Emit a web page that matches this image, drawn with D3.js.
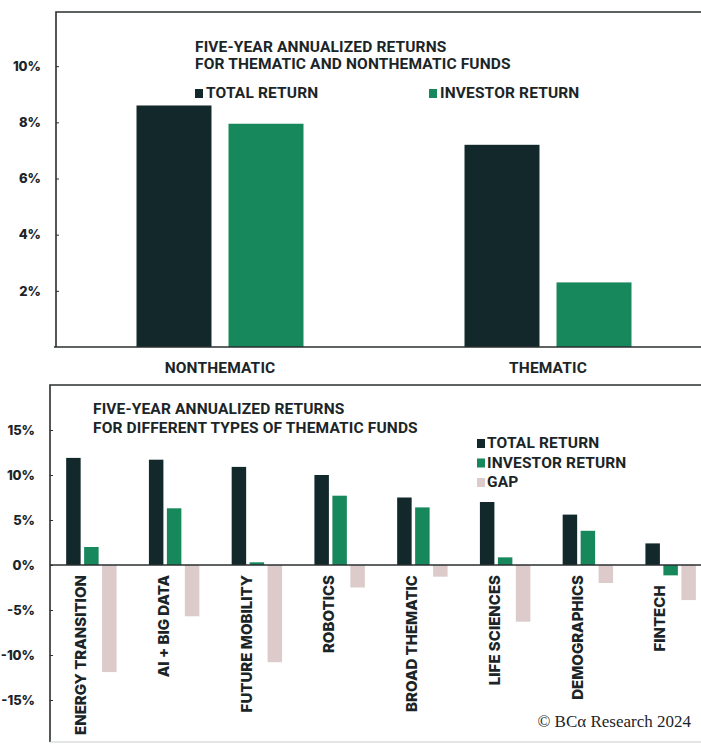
<!DOCTYPE html>
<html>
<head>
<meta charset="utf-8">
<script src="https://cdn.jsdelivr.net/npm/d3@7"></script>
<style>
  body { margin: 0; background: #fff; }
  svg { display: block; }
</style>
</head>
<body>
<div id="chart"></div>
<script>
// BCA: five-year annualized returns, thematic vs nonthematic funds

const TOP_GROUPS = ['NONTHEMATIC', 'THEMATIC'];
const TOP_TOTAL = [8.6, 7.2];
const TOP_INVESTOR = [7.95, 2.3];
const TOP_TICKS = [2, 4, 6, 8, 10];

const CATEGORIES = ['ENERGY TRANSITION', 'AI + BIG DATA', 'FUTURE MOBILITY', 'ROBOTICS',
    'BROAD THEMATIC', 'LIFE SCIENCES', 'DEMOGRAPHICS', 'FINTECH'];
const TOTAL = [11.9, 11.7, 10.9, 10.0, 7.5, 7.0, 5.6, 2.4];
const INVESTOR = [2.0, 6.3, 0.3, 7.7, 6.4, 0.85, 3.8, -1.15];
const GAP = [-11.9, -5.7, -10.8, -2.5, -1.3, -6.3, -2.0, -3.9];
const BOTTOM_TICKS = [-15, -10, -5, 0, 5, 10, 15];

const COLORS = { total: '#12282b', investor: '#17885b', gap: '#dccbca' };
const INK = '#1b2527';
const TITLE_FONT = 'Roboto, sans-serif';
const LABEL_FONT = 'Inter, sans-serif';
const TITLE_SIZE = 15.5;

const W = 701, H = 744;

const svg = d3.select('#chart').append('svg')
    .attr('width', W)
    .attr('height', H);

const fmtPct = d => `${d}%`;

function titleText(sel) {
    return sel.attr('font-family', TITLE_FONT).attr('font-weight', 700)
        .attr('font-size', TITLE_SIZE).attr('letter-spacing', 0.15).attr('fill', INK);
}

function labelText(sel, size) {
    return sel.attr('font-family', LABEL_FONT).attr('font-weight', 800)
        .attr('font-size', size).attr('fill', INK);
}

// ---------- top chart ----------
function drawTop() {
    const g = svg.append('g');
    const left = 56, right = 712, top = 12;

    const y = d3.scaleLinear().domain([0, 12]).range([347, 10]);
    const x0 = d3.scaleBand().domain(TOP_GROUPS).range([left, right]);
    const x1 = d3.scaleBand().domain(['total', 'investor'])
        .range([0, x0.bandwidth()])
        .paddingInner(0.185)
        .paddingOuter(0.875);

    const rows = TOP_GROUPS.map((name, i) => ({ name, total: TOP_TOTAL[i], investor: TOP_INVESTOR[i] }));

    g.selectAll('g.grp')
        .data(rows)
        .enter().append('g')
        .attr('transform', d => `translate(${x0(d.name)},0)`)
        .selectAll('rect')
        .data(d => ['total', 'investor'].map(k => ({ k, v: d[k] })))
        .enter().append('rect')
        .attr('x', d => x1(d.k))
        .attr('width', x1.bandwidth())
        .attr('y', d => y(d.v))
        .attr('height', d => y(0) - y(d.v))
        .attr('fill', d => COLORS[d.k]);

    // frame
    g.append('path')
        .attr('d', `M${left},${y(0)}V${top}H${W}`)
        .attr('fill', 'none').attr('stroke', '#2a2f30').attr('stroke-width', 1.6);
    g.append('line')
        .attr('x1', left - 2).attr('x2', W)
        .attr('y1', y(0)).attr('y2', y(0))
        .attr('stroke', '#2a2f30').attr('stroke-width', 1.6);

    // y axis
    const yAxis = d3.axisLeft(y).tickValues(TOP_TICKS).tickFormat(fmtPct).tickSize(-3).tickPadding(15);
    const ax = g.append('g').attr('transform', `translate(${left},0)`).call(yAxis);
    ax.select('.domain').remove();
    ax.selectAll('line').attr('stroke', '#2a2f30');
    ax.selectAll('text').call(labelText, 13);

    // x labels
    g.selectAll('text.cat')
        .data(TOP_GROUPS)
        .enter().append('text')
        .attr('x', d => x0(d) + x0.bandwidth() / 2)
        .attr('y', 373)
        .attr('text-anchor', 'middle')
        .call(titleText)
        .text(d => d);

    // title
    const title = g.append('text').call(titleText);
    title.append('tspan').attr('x', 195).attr('y', 52).text('FIVE-YEAR ANNUALIZED RETURNS');
    title.append('tspan').attr('x', 195).attr('y', 69).text('FOR THEMATIC AND NONTHEMATIC FUNDS');

    // legend
    const legend = [
        { k: 'total', label: 'TOTAL RETURN', x: 195 },
        { k: 'investor', label: 'INVESTOR RETURN', x: 429 }
    ];
    const lg = g.selectAll('g.leg').data(legend).enter().append('g')
        .attr('transform', d => `translate(${d.x},98)`);
    lg.append('rect').attr('x', 0).attr('y', -9).attr('width', 8).attr('height', 9)
        .attr('fill', d => COLORS[d.k]);
    lg.append('text').attr('x', 11).call(titleText)
        .text(d => d.label);
}

// ---------- bottom chart ----------
function drawBottom() {
    const g = svg.append('g');
    const left = 50, right = 712, top = 385, bottom = 742;

    const y = d3.scaleLinear().domain([-15, 15]).range([700, 430]);
    const x0 = d3.scaleBand().domain(CATEGORIES).range([left, right]);
    const keys = ['total', 'investor', 'gap'];
    const x1 = d3.scaleBand().domain(keys)
        .range([0, x0.bandwidth()])
        .paddingInner(0.194)
        .paddingOuter(0.9);

    const rows = CATEGORIES.map((name, i) => ({ name, total: TOTAL[i], investor: INVESTOR[i], gap: GAP[i] }));

    g.selectAll('g.grp')
        .data(rows)
        .enter().append('g')
        .attr('transform', d => `translate(${x0(d.name)},0)`)
        .selectAll('rect')
        .data(d => keys.map(k => ({ k, v: d[k] })))
        .enter().append('rect')
        .attr('x', d => x1(d.k))
        .attr('width', x1.bandwidth())
        .attr('y', d => y(Math.max(0, d.v)))
        .attr('height', d => Math.abs(y(d.v) - y(0)))
        .attr('fill', d => COLORS[d.k]);

    // frame
    g.append('path')
        .attr('d', `M${left},${bottom}V${top}H${W}`)
        .attr('fill', 'none').attr('stroke', '#2a2f30').attr('stroke-width', 1.6);
    g.append('line')
        .attr('x1', left).attr('x2', W)
        .attr('y1', bottom).attr('y2', bottom)
        .attr('stroke', '#c9cccc').attr('stroke-width', 1);
    g.append('line')
        .attr('x1', left).attr('x2', W)
        .attr('y1', y(0)).attr('y2', y(0))
        .attr('stroke', '#2a2f30').attr('stroke-width', 1.6);

    // y axis
    const yAxis = d3.axisLeft(y).tickValues(BOTTOM_TICKS).tickFormat(fmtPct).tickSize(-3).tickPadding(15);
    const ax = g.append('g').attr('transform', `translate(${left},0)`).call(yAxis);
    ax.select('.domain').remove();
    ax.selectAll('line').attr('stroke', '#2a2f30');
    ax.selectAll('text').call(labelText, 13);

    // rotated category labels, pushed below the lowest of total / investor
    g.selectAll('text.cat')
        .data(rows)
        .enter().append('text')
        .attr('transform', d => {
            const lx = x0(d.name) + x1('investor') + 2;
            const ly = y(Math.min(0, d.total, d.investor)) + 10;
            return `translate(${lx},${ly}) rotate(-90)`;
        })
        .attr('text-anchor', 'end')
        .call(labelText, 15)
        .text(d => d.name);

    // title
    const title = g.append('text').call(titleText);
    title.append('tspan').attr('x', 93).attr('y', 414).text('FIVE-YEAR ANNUALIZED RETURNS');
    title.append('tspan').attr('x', 93).attr('y', 433).text('FOR DIFFERENT TYPES OF THEMATIC FUNDS');

    // legend
    const legend = [
        { k: 'total', label: 'TOTAL RETURN' },
        { k: 'investor', label: 'INVESTOR RETURN' },
        { k: 'gap', label: 'GAP' }
    ];
    const lg = g.selectAll('g.leg').data(legend).enter().append('g')
        .attr('transform', (d, i) => `translate(477,${448 + i * 19.5})`);
    lg.append('rect').attr('x', 0).attr('y', -9).attr('width', 8).attr('height', 9)
        .attr('fill', d => COLORS[d.k]);
    lg.append('text').attr('x', 10).call(titleText)
        .text(d => d.label);

    // source
    g.append('text')
        .attr('x', 691).attr('y', 727)
        .attr('text-anchor', 'end')
        .attr('font-family', '"Liberation Serif", serif')
        .attr('font-size', 17).attr('fill', INK)
        .text('© BCα Research 2024');
}

drawTop();
drawBottom();
</script>
</body>
</html>
